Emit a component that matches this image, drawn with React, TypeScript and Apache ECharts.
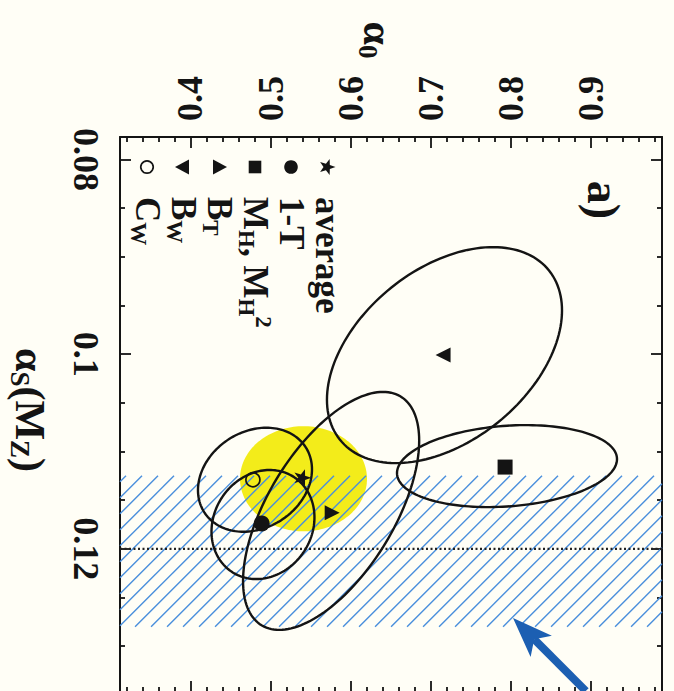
import React, { useEffect, useRef } from 'react';
import * as echarts from 'echarts';

const FONT = '"Liberation Serif", "Times New Roman", serif';
const INK = '#141414';
const YELLOW = '#f3ec1a';
const HATCH = '#4a8fdc';
const ARROW_BLUE = '#1c5fb2';

// axis ranges (alpha0 horizontal, alphaS vertical, increasing downward)
const ALPHA0_MIN = 0.312;
const ALPHA0_MAX = 0.989;
const ALPHAS_MIN = 0.0777;
const ALPHAS_MAX = 0.1347;

const ALPHA0_MAJOR = [0.4, 0.5, 0.6, 0.7, 0.8, 0.9];
const ALPHA0_MINOR = [0.32, 0.34, 0.36, 0.38, 0.42, 0.44, 0.46, 0.48, 0.52, 0.54, 0.56, 0.58, 0.62, 0.64, 0.66, 0.68, 0.72, 0.74, 0.76, 0.78, 0.82, 0.84, 0.86, 0.88, 0.92, 0.94, 0.96, 0.98];
const ALPHAS_MAJOR = [0.08, 0.1, 0.12];
const ALPHAS_MINOR = [0.085, 0.09, 0.095, 0.105, 0.11, 0.115, 0.125, 0.13];

// fitted points [alpha0, alphaS]
const AVERAGE = [[0.5405, 0.1127]];
const ONE_MINUS_T = [[0.489, 0.1174]];
const M_H = [[0.793, 0.1116]];
const B_T = [[0.577, 0.1163]];
const B_W = [[0.7155, 0.1001]];
const C_W = [[0.478, 0.1129]];

// contours [alpha0 centre, alphaS centre, alpha0 half-extent, alphaS half-extent, correlation]
const CONTOURS = [
  [0.7173, 0.1001, 0.1468, 0.01109, -0.413], // B_W
  [0.7954, 0.1115, 0.1374, 0.00421, -0.17], // M_H
  [0.5757, 0.1161, 0.11, 0.01222, -0.59], // B_T
  [0.4806, 0.1129, 0.0712, 0.00534, -0.2], // C_W
  [0.4906, 0.1175, 0.0643, 0.0056, -0.13], // 1-T
];
const AVERAGE_REGION = [[0.5412, 0.1128, 0.0793, 0.0054, 0]];

// world-average alphaS band and reference value
const BAND_LOW = 0.1125;
const BAND_HIGH = 0.128;
const REFERENCE_ALPHAS = 0.12;

// arrow [tail alpha0, tail alphaS, tip alpha0, tip alphaS]
const ARROW = [[0.8938, 0.1346, 0.8029, 0.1271]];

const LEGEND = [
  { text: '{m|average}', marker: 'star' },
  { text: '{m|1-T}', marker: 'dot' },
  { text: '{m|M}{s|H}{m|, M}{s|H}{p|2}', marker: 'square' },
  { text: '{m|B}{s|T}', marker: 'up' },
  { text: '{m|B}{s|W}', marker: 'down' },
  { text: '{m|C}{s|W}', marker: 'ring' },
];

const STAR_PATH =
  'path://M0,-10L2.35,-3.24L9.51,-3.09L3.8,1.24L5.88,8.09L0,4L-5.88,8.09L-3.8,1.24L-9.51,-3.09L-2.35,-3.24Z';

function starPoints(r: number, ri: number) {
  const pts: number[][] = [];
  for (let i = 0; i < 10; i++) {
    const rad = i % 2 === 0 ? r : ri;
    const a = -Math.PI / 2 + (i * Math.PI) / 5;
    pts.push([rad * Math.cos(a), rad * Math.sin(a)]);
  }
  return pts;
}

function ellipseRenderer(fill: string, stroke: string, lineWidth: number) {
  return (_params: any, api: any) => {
    const cx = api.value(0);
    const cy = api.value(1);
    const hx = api.value(2);
    const hy = api.value(3);
    const r = api.value(4);
    const k = Math.sqrt(1 - r * r);
    const pts: number[][] = [];
    const n = 160;
    for (let i = 0; i < n; i++) {
      const t = (i / n) * Math.PI * 2;
      pts.push(api.coord([cx + hx * Math.cos(t), cy + hy * (r * Math.cos(t) + k * Math.sin(t))]));
    }
    return { type: 'polygon', shape: { points: pts }, style: { fill, stroke, lineWidth } };
  };
}

const tickFont = { fontSize: 36, fontWeight: 'bold' as const, fontFamily: FONT, color: INK };

function makeXAxis(position: 'top' | 'bottom', values: number[], len: number, labels: boolean, line: boolean) {
  return {
    type: 'value',
    position,
    min: ALPHA0_MIN,
    max: ALPHA0_MAX,
    axisLine: { show: line, onZero: false, lineStyle: { color: INK, width: 2 } },
    axisTick: { show: true, inside: true, length: len, customValues: values, lineStyle: { color: INK, width: 1.8 } },
    axisLabel: labels
      ? { show: true, customValues: values, rotate: -90, margin: 16, ...tickFont }
      : { show: false },
    splitLine: { show: false },
  };
}

function makeYAxis(position: 'left' | 'right', values: number[], len: number, labels: boolean, line: boolean) {
  return {
    type: 'value',
    position,
    inverse: true,
    min: ALPHAS_MIN,
    max: ALPHAS_MAX,
    axisLine: { show: line, onZero: false, lineStyle: { color: INK, width: 2 } },
    axisTick: { show: true, inside: true, length: len, customValues: values, lineStyle: { color: INK, width: 1.8 } },
    axisLabel: labels
      ? { show: true, customValues: values, rotate: -90, margin: 16, ...tickFont }
      : { show: false },
    splitLine: { show: false },
  };
}

const legendRich = {
  m: { fontSize: 35, fontWeight: 'bold', fontFamily: FONT, fill: INK, lineHeight: 40 },
  s: { fontSize: 23, fontWeight: 'bold', fontFamily: FONT, fill: INK, lineHeight: 14, verticalAlign: 'bottom' },
  p: { fontSize: 23, fontWeight: 'bold', fontFamily: FONT, fill: INK, lineHeight: 14, verticalAlign: 'top' },
};

function legendMarker(kind: string, y: number) {
  switch (kind) {
    case 'star':
      return { type: 'polygon', shape: { points: starPoints(8.5, 3.5).map((p) => [p[0], p[1] + y]) }, style: { fill: INK } };
    case 'dot':
      return { type: 'circle', shape: { cx: 0, cy: y, r: 6.8 }, style: { fill: INK } };
    case 'square':
      return { type: 'rect', shape: { x: -6.3, y: y - 6.3, width: 12.6, height: 12.6 }, style: { fill: INK } };
    case 'up':
      return { type: 'polygon', shape: { points: [[0, y - 8], [7.5, y + 6], [-7.5, y + 6]] }, style: { fill: INK } };
    case 'down':
      return { type: 'polygon', shape: { points: [[0, y + 8], [7.5, y - 6], [-7.5, y - 6]] }, style: { fill: INK } };
    default:
      return { type: 'circle', shape: { cx: 0, cy: y, r: 6.2 }, style: { fill: 'none', stroke: INK, lineWidth: 1.7 } };
  }
}

const legendChildren: any[] = [];
LEGEND.forEach((item, i) => {
  const y = i * 36;
  legendChildren.push(legendMarker(item.marker, y));
  legendChildren.push({
    type: 'text',
    x: 30,
    y,
    style: { text: item.text, rich: legendRich, align: 'left', verticalAlign: 'middle', fill: INK },
  });
});

const titleRich = {
  a: { fontSize: 42, fontWeight: 'bold', fontFamily: FONT, fill: INK, lineHeight: 48 },
  s: { fontSize: 27, fontWeight: 'bold', fontFamily: FONT, fill: INK, lineHeight: 18, verticalAlign: 'bottom' },
};

const option: any = {
  animation: false,
  backgroundColor: '#fffef6',
  grid: { left: 120, right: 12, top: 137, bottom: 8 },
  xAxis: [
    makeXAxis('top', ALPHA0_MAJOR, 11, true, true),
    makeXAxis('top', ALPHA0_MINOR, 5, false, false),
    makeXAxis('bottom', ALPHA0_MAJOR, 11, false, true),
    makeXAxis('bottom', ALPHA0_MINOR, 5, false, false),
  ],
  yAxis: [
    makeYAxis('left', ALPHAS_MAJOR, 11, true, true),
    makeYAxis('left', ALPHAS_MINOR, 5, false, false),
    makeYAxis('right', ALPHAS_MAJOR, 11, false, true),
    makeYAxis('right', ALPHAS_MINOR, 5, false, false),
  ],
  graphic: [
    {
      type: 'group',
      x: 327,
      y: 167,
      rotation: -Math.PI / 2,
      children: legendChildren,
      z: 100,
    },
    {
      type: 'text',
      x: 378,
      y: 40,
      rotation: -Math.PI / 2,
      style: { text: '{a|α}{s|0}', rich: titleRich, align: 'center', verticalAlign: 'middle' },
    },
    {
      type: 'text',
      x: 30,
      y: 410,
      rotation: -Math.PI / 2,
      style: { text: '{a|α}{s|S}{a|(M}{s|Z}{a|)}', rich: titleRich, align: 'center', verticalAlign: 'middle' },
    },
    {
      type: 'text',
      x: 603,
      y: 200,
      rotation: -Math.PI / 2,
      z: 100,
      style: { text: 'a)', font: `bold 46px ${FONT}`, fill: INK, align: 'center', verticalAlign: 'middle' },
    },
  ],
  series: [
    {
      type: 'custom',
      name: 'average region',
      z: 1,
      silent: true,
      data: AVERAGE_REGION,
      renderItem: ellipseRenderer(YELLOW, 'none', 0),
    },
    {
      type: 'custom',
      name: 'band',
      z: 2,
      silent: true,
      data: [[ALPHA0_MIN, BAND_LOW, ALPHA0_MAX, BAND_HIGH]],
      encode: { x: [0, 2], y: [1, 3] },
      renderItem: (_p: any, api: any) => {
        const a = api.coord([api.value(0), api.value(1)]);
        const b = api.coord([api.value(2), api.value(3)]);
        const x0 = Math.min(a[0], b[0]);
        const x1 = Math.max(a[0], b[0]);
        const y0 = Math.min(a[1], b[1]);
        const y1 = Math.max(a[1], b[1]);
        const step = 16;
        const children: any[] = [];
        for (let c = x0 + y0 + 6; c < x1 + y1; c += step) {
          const xa = Math.max(x0, c - y1);
          const xb = Math.min(x1, c - y0);
          if (xb > xa + 0.5) {
            children.push({
              type: 'line',
              shape: { x1: xa, y1: c - xa, x2: xb, y2: c - xb },
              style: { stroke: HATCH, lineWidth: 1.4 },
            });
          }
        }
        return { type: 'group', children };
      },
    },
    {
      type: 'line',
      name: 'reference',
      z: 3,
      silent: true,
      symbol: 'none',
      data: [[ALPHA0_MIN, REFERENCE_ALPHAS], [ALPHA0_MAX, REFERENCE_ALPHAS]],
      lineStyle: { color: '#222', width: 2.2, type: [2, 2.5] },
    },
    {
      type: 'custom',
      name: 'contours',
      z: 4,
      silent: true,
      data: CONTOURS,
      renderItem: ellipseRenderer('none', INK, 2.4),
    },
    {
      type: 'scatter',
      name: 'average',
      z: 5,
      data: AVERAGE,
      symbol: STAR_PATH,
      symbolSize: 17,
      symbolRotate: -90,
      itemStyle: { color: INK, opacity: 1 },
    },
    { type: 'scatter', name: '1-T', z: 5, data: ONE_MINUS_T, symbol: 'circle', symbolSize: 16, itemStyle: { color: INK, opacity: 1 } },
    { type: 'scatter', name: 'MH', z: 5, data: M_H, symbol: 'rect', symbolSize: 15, itemStyle: { color: INK, opacity: 1 } },
    { type: 'scatter', name: 'BT', z: 5, data: B_T, symbol: 'triangle', symbolRotate: -90, symbolSize: 15, itemStyle: { color: INK, opacity: 1 } },
    { type: 'scatter', name: 'BW', z: 5, data: B_W, symbol: 'triangle', symbolRotate: 90, symbolSize: 15, itemStyle: { color: INK, opacity: 1 } },
    {
      type: 'scatter',
      name: 'CW',
      z: 5,
      data: C_W,
      symbol: 'circle',
      symbolSize: 14,
      itemStyle: { color: 'rgba(0,0,0,0)', borderColor: INK, borderWidth: 1.7, opacity: 1 },
    },
    {
      type: 'custom',
      name: 'arrow',
      z: 6,
      silent: true,
      data: ARROW,
      encode: { x: [0, 2], y: [1, 3] },
      renderItem: (_p: any, api: any) => {
        const from = api.coord([api.value(0), api.value(1)]);
        const tip = api.coord([api.value(2), api.value(3)]);
        const dx = tip[0] - from[0];
        const dy = tip[1] - from[1];
        const L = Math.hypot(dx, dy);
        const ux = dx / L;
        const uy = dy / L;
        const nx = -uy;
        const ny = ux;
        const headLen = 40;
        const half = 15;
        const notch = 30;
        const bx = tip[0] - ux * headLen;
        const by = tip[1] - uy * headLen;
        const nxp = tip[0] - ux * notch;
        const nyp = tip[1] - uy * notch;
        return {
          type: 'group',
          children: [
            {
              type: 'line',
              shape: { x1: from[0], y1: from[1], x2: nxp, y2: nyp },
              style: { stroke: ARROW_BLUE, lineWidth: 8 },
            },
            {
              type: 'polygon',
              shape: { points: [tip, [bx + nx * half, by + ny * half], [nxp, nyp], [bx - nx * half, by - ny * half]] },
              style: { fill: ARROW_BLUE },
            },
          ],
        };
      },
    },
  ],
};

export default function App() {
  const ref = useRef<HTMLDivElement>(null);
  useEffect(() => {
    if (!ref.current) return;
    const chart = echarts.init(ref.current, null, { renderer: 'svg' });
    chart.setOption(option);
    return () => chart.dispose();
  }, []);
  return <div ref={ref} style={{ position: 'fixed', left: 0, top: 0, width: 674, height: 700 }} />;
}
